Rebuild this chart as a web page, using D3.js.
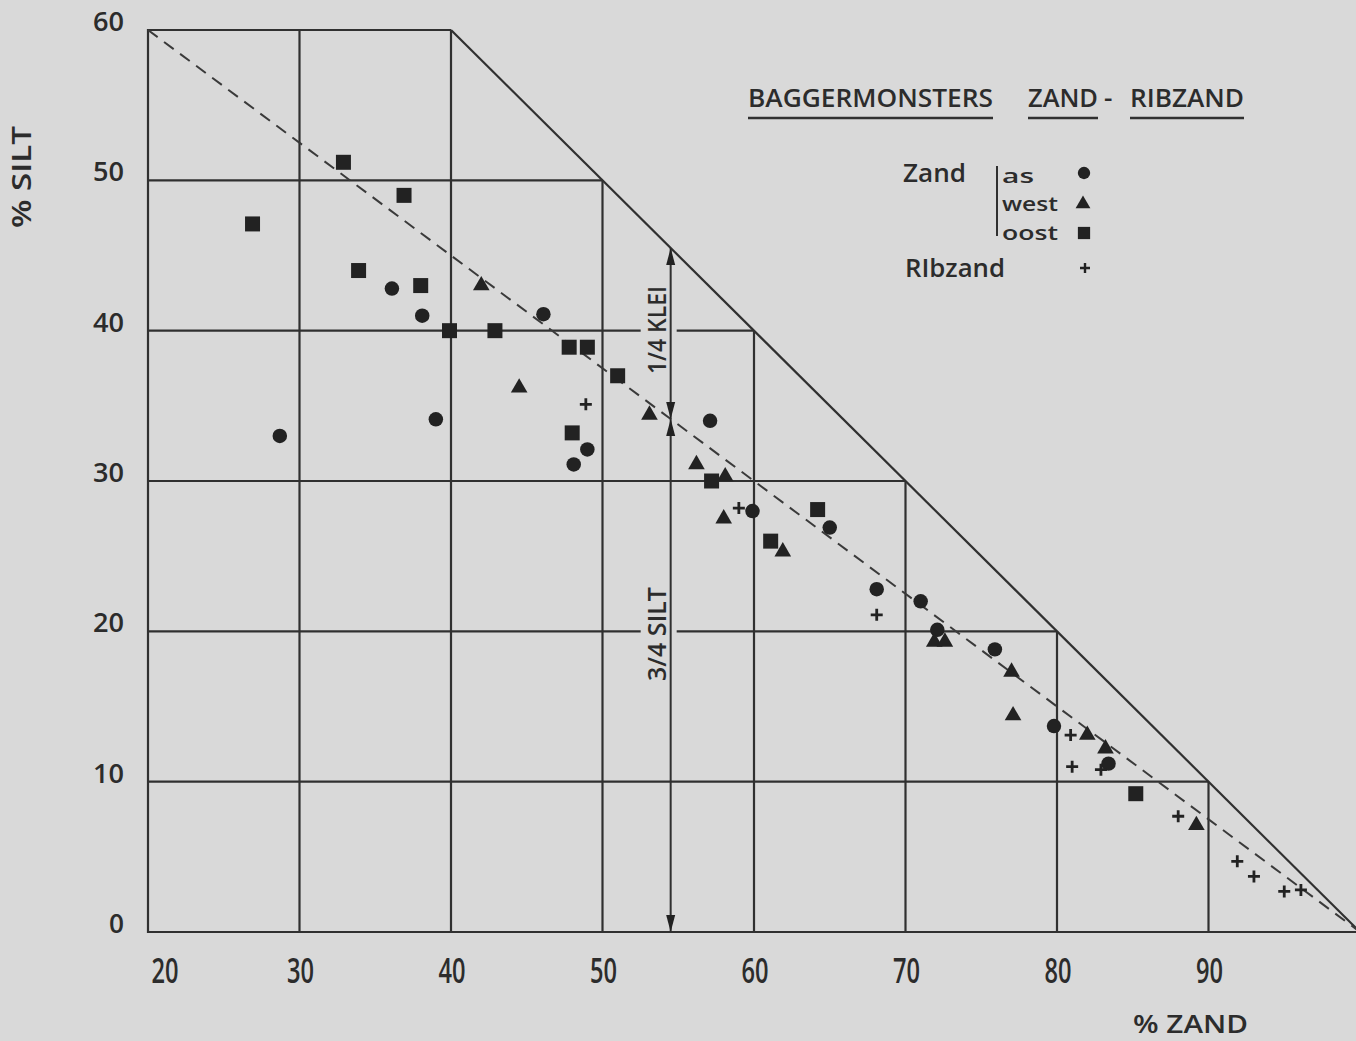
<!DOCTYPE html>
<html>
<head>
<meta charset="utf-8">
<script src="https://cdn.jsdelivr.net/npm/d3@7"></script>
<style>
  html, body { margin: 0; padding: 0; background: #d9d9d9; }
  svg { display: block; }
  text { font-family: "Open Sans", "DejaVu Sans", sans-serif; font-weight: 600; fill: #2c2c2c; }
</style>
</head>
<body>
<svg id="chart" width="1356" height="1041"></svg>
<script>
// % zand, % silt per sample
const zandAs = [
  [28.7, 33.0], [36.1, 42.8], [38.1, 41.0], [39.0, 34.1], [46.1, 41.1], [48.1, 31.1],
  [49.0, 32.1], [57.1, 34.0], [59.9, 28.0], [65.0, 26.9], [68.1, 22.8], [71.0, 22.0],
  [72.1, 20.1], [75.9, 18.8], [79.8, 13.7], [83.4, 11.2]
];
const zandWest = [
  [42.0, 43.0], [44.5, 36.2], [53.1, 34.4], [56.2, 31.1], [58.1, 30.3], [58.0, 27.5],
  [61.9, 25.3], [71.9, 19.3], [72.6, 19.3], [77.0, 17.3], [77.1, 14.4], [82.0, 13.1],
  [83.2, 12.2], [89.2, 7.1]
];
const zandOost = [
  [32.9, 51.2], [36.9, 49.0], [26.9, 47.1], [33.9, 44.0], [38.0, 43.0], [39.9, 40.0],
  [42.9, 40.0], [47.8, 38.9], [49.0, 38.9], [51.0, 37.0], [48.0, 33.2], [57.2, 30.0],
  [61.1, 26.0], [64.2, 28.1], [85.2, 9.2]
];
const ribzand = [
  [48.9, 35.1], [59.0, 28.2], [68.1, 21.1], [80.9, 13.1], [81.0, 11.0], [82.9, 10.8],
  [88.0, 7.7], [91.9, 4.7], [93.0, 3.7], [95.0, 2.7], [96.1, 2.8]
];

const xTicks = [20, 30, 40, 50, 60, 70, 80, 90];
const yTicks = [0, 10, 20, 30, 40, 50, 60];
const gridX = [30, 40, 50, 60, 70, 80, 90];
const gridY = [10, 20, 30, 40, 50];
const zandParts = ["as", "west", "oost"];

const INK = "#303030";
const MARK = "#222";
const PAPER = "#d9d9d9";

const svg = d3.select("#chart");
const x = d3.scaleLinear().domain([20, 100]).range([148, 1360]);
const y = d3.scaleLinear().domain([0, 60]).range([932, 30]);

const g = svg.append("g");

// stepped grid bounded by zand + silt = 100
const gridG = g.append("g").attr("stroke", INK).attr("stroke-width", 2.2).attr("fill", "none");
gridX.forEach(v => {
  gridG.append("line").attr("x1", x(v)).attr("x2", x(v))
    .attr("y1", y(0)).attr("y2", y(Math.min(60, 100 - v)));
});
gridY.forEach(v => {
  gridG.append("line").attr("x1", x(20)).attr("x2", x(100 - v))
    .attr("y1", y(v)).attr("y2", y(v));
});
// outline: left, bottom, top and the 100 % diagonal
gridG.append("path")
  .attr("d", d3.line()([[x(40), y(60)], [x(20), y(60)], [x(20), y(0)], [x(100), y(0)]]));
gridG.append("line").attr("x1", x(40)).attr("y1", y(60)).attr("x2", x(100)).attr("y2", y(0));

// 3/4 silt : 1/4 klei line
g.append("line")
  .attr("x1", x(20)).attr("y1", y(60)).attr("x2", x(100)).attr("y2", y(0))
  .attr("stroke", "#3a3a3a").attr("stroke-width", 2).attr("stroke-dasharray", "12,8");

// dimension arrow with its two labels
const ax = x(54.5);
const splitY = y(0.75 * (100 - 54.5));
const topY = y(100 - 54.5);
const annot = g.append("g");
function sideLabel(txt, yc, len) {
  annot.append("rect").attr("x", ax - 30).attr("y", yc - len / 2 - 4)
    .attr("width", 36).attr("height", len + 8).attr("fill", PAPER);
  annot.append("text")
    .attr("transform", `translate(${ax - 5},${yc}) rotate(-90)`)
    .attr("text-anchor", "middle")
    .attr("font-size", 25)
    .attr("textLength", len).attr("lengthAdjust", "spacingAndGlyphs")
    .text(txt);
}
sideLabel("1/4 KLEI", 330, 88);
sideLabel("3/4 SILT", 634, 94);
annot.append("line").attr("x1", ax).attr("x2", ax).attr("y1", topY).attr("y2", y(0))
  .attr("stroke", INK).attr("stroke-width", 2);
function head(tipY, dir) {
  // dir = -1 points up, +1 points down
  const L = 17, W = 4.5;
  annot.append("path")
    .attr("d", `M${ax},${tipY} L${ax - W},${tipY - dir * L} L${ax + W},${tipY - dir * L} Z`)
    .attr("fill", MARK);
}
head(topY, -1);
head(splitY, 1);
head(splitY, -1);
head(y(0), 1);

// markers
const marks = g.append("g").attr("fill", MARK);
marks.selectAll("path.as").data(zandAs).join("path").attr("class", "as")
  .attr("transform", d => `translate(${x(d[0])},${y(d[1])})`)
  .attr("d", d3.symbol(d3.symbolCircle, 165));
marks.selectAll("path.west").data(zandWest).join("path").attr("class", "west")
  .attr("transform", d => `translate(${x(d[0])},${y(d[1])})`)
  .attr("d", d3.symbol(d3.symbolTriangle, 120));
marks.selectAll("path.oost").data(zandOost).join("path").attr("class", "oost")
  .attr("transform", d => `translate(${x(d[0])},${y(d[1])})`)
  .attr("d", d3.symbol(d3.symbolSquare, 225));
const plusPath = "M-6,0H6M0,-6V6";
marks.selectAll("path.rib").data(ribzand).join("path").attr("class", "rib")
  .attr("transform", d => `translate(${x(d[0])},${y(d[1])})`)
  .attr("d", plusPath).attr("fill", "none").attr("stroke", MARK).attr("stroke-width", 2.8);

// tick labels
const yl = g.append("g");
yTicks.forEach(v => {
  yl.append("text").attr("x", 124).attr("y", y(v) + 1)
    .attr("text-anchor", "end").attr("font-size", 27)
    .attr("textLength", v === 0 ? 15 : 31).attr("lengthAdjust", "spacingAndGlyphs")
    .text(v);
});
const xl = g.append("g");
xTicks.forEach((v, i) => {
  xl.append("text").attr("x", x(v) + (i === 0 ? 17 : 1)).attr("y", 983)
    .attr("text-anchor", "middle").attr("font-size", 34)
    .attr("textLength", 27).attr("lengthAdjust", "spacingAndGlyphs")
    .text(v);
});

// axis titles
g.append("text").attr("x", 1133).attr("y", 1033).attr("font-size", 26)
  .attr("textLength", 115).attr("lengthAdjust", "spacingAndGlyphs").text("% ZAND");
g.append("text")
  .attr("transform", "translate(31,177) rotate(-90)")
  .attr("text-anchor", "middle").attr("font-size", 27)
  .attr("textLength", 102).attr("lengthAdjust", "spacingAndGlyphs").text("% SILT");

// title with underlined words
const title = g.append("g");
[["BAGGERMONSTERS", 748, 245], ["ZAND", 1028, 70], ["RIBZAND", 1130, 114]].forEach(([t, x0, w]) => {
  title.append("text").attr("x", x0).attr("y", 107).attr("font-size", 26)
    .attr("textLength", w).attr("lengthAdjust", "spacingAndGlyphs").text(t);
  title.append("line").attr("x1", x0).attr("x2", x0 + w).attr("y1", 118).attr("y2", 118)
    .attr("stroke", INK).attr("stroke-width", 2.4);
});
title.append("text").attr("x", 1104).attr("y", 107).attr("font-size", 26).text("-");

// legend
const lg = g.append("g");
lg.append("text").attr("x", 903).attr("y", 182).attr("font-size", 26)
  .attr("textLength", 63).attr("lengthAdjust", "spacingAndGlyphs").text("Zand");
zandParts.forEach((t, i) => {
  lg.append("text").attr("x", 1002).attr("y", 183 + i * 28.3).attr("font-size", 20.5)
    .attr("textLength", t.length === 2 ? 32 : 56).attr("lengthAdjust", "spacingAndGlyphs")
    .text(t);
});
lg.append("text").attr("x", 905).attr("y", 277).attr("font-size", 26)
  .attr("textLength", 100).attr("lengthAdjust", "spacingAndGlyphs").text("RIbzand");
lg.append("line").attr("x1", 997).attr("x2", 997).attr("y1", 166).attr("y2", 236)
  .attr("stroke", INK).attr("stroke-width", 2);
lg.append("path").attr("transform", "translate(1084,173)")
  .attr("d", d3.symbol(d3.symbolCircle, 120)).attr("fill", MARK);
lg.append("path").attr("transform", "translate(1083,204)")
  .attr("d", d3.symbol(d3.symbolTriangle, 95)).attr("fill", MARK);
lg.append("path").attr("transform", "translate(1084,233)")
  .attr("d", d3.symbol(d3.symbolSquare, 150)).attr("fill", MARK);
lg.append("path").attr("transform", "translate(1085,268)")
  .attr("d", "M-5,0H5M0,-5V5").attr("stroke", MARK).attr("stroke-width", 2.4);
</script>
</body>
</html>
